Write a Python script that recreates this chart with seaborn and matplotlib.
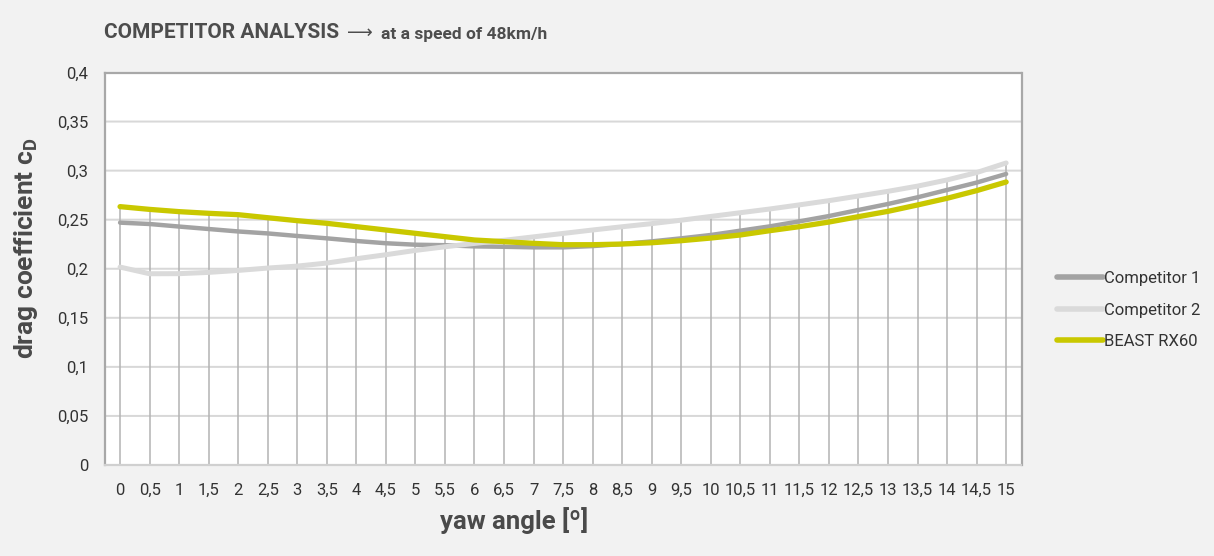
import numpy as np
import pandas as pd
import matplotlib
matplotlib.use("Agg")
import matplotlib.pyplot as plt
import seaborn as sns
from matplotlib.lines import Line2D

yaw = [0, 0.5, 1, 1.5, 2, 2.5, 3, 3.5, 4, 4.5, 5, 5.5, 6, 6.5, 7, 7.5,
       8, 8.5, 9, 9.5, 10, 10.5, 11, 11.5, 12, 12.5, 13, 13.5, 14, 14.5, 15]
competitor1 = [0.247, 0.2456, 0.243, 0.2405, 0.238, 0.236, 0.2334, 0.231, 0.2283, 0.226,
               0.2245, 0.224, 0.2228, 0.2224, 0.2218, 0.2218, 0.2231, 0.2252, 0.2279, 0.231,
               0.2344, 0.2388, 0.2432, 0.2483, 0.2537, 0.2599, 0.266, 0.2728, 0.2803, 0.2878, 0.2966]
competitor2 = [0.2017, 0.1949, 0.195, 0.1963, 0.1983, 0.2007, 0.2027, 0.2058, 0.2102, 0.2143,
               0.2187, 0.2224, 0.2258, 0.229, 0.2325, 0.236, 0.2395, 0.2428, 0.246, 0.2495,
               0.2533, 0.2571, 0.2609, 0.2651, 0.2694, 0.2741, 0.2789, 0.2842, 0.2905, 0.298, 0.3078]
beast = [0.2633, 0.2605, 0.2582, 0.2565, 0.2551, 0.252, 0.249, 0.2463, 0.2429, 0.2395,
         0.2361, 0.2327, 0.2293, 0.2276, 0.2259, 0.2245, 0.2245, 0.2252, 0.2265, 0.2286,
         0.2313, 0.2344, 0.2388, 0.2429, 0.2476, 0.2531, 0.2585, 0.265, 0.2718, 0.2796, 0.2884]
series_names = ["Competitor 1", "Competitor 2", "BEAST RX60"]
series_colors = ["#a3a3a3", "#dadada", "#c9c800"]
y_ticks = [0, 0.05, 0.1, 0.15, 0.2, 0.25, 0.3, 0.35, 0.4]


def fmt(v):
    return ("%g" % v).replace(".", ",")


df = pd.concat([
    pd.DataFrame({"yaw": yaw, "cd": vals, "series": name})
    for name, vals in zip(series_names, [competitor1, competitor2, beast])
])

sns.set_theme(style="white")
plt.rcParams["font.family"] = ["Roboto", "DejaVu Sans"]

fig = plt.figure(figsize=(12.14, 5.56), dpi=100, facecolor="#f2f2f2")
ax = fig.add_axes([105 / 1214, 1 - 465 / 556, (1021.5 - 105) / 1214, (465 - 72.5) / 556])
ax.set_facecolor("white")

# horizontal grid
for yt in y_ticks:
    gl = ax.axhline(yt, color="#d8d8d8", lw=1.44, zorder=0)
    gl.set_snap(False)

# drop lines up to the top-most series
tops = np.max(np.vstack([competitor1, competitor2, beast]), axis=0)
ax.vlines(yaw, 0, tops, color="#b3b3b3", lw=1.1, zorder=1)

sns.lineplot(data=df, x="yaw", y="cd", hue="series", hue_order=series_names,
             palette=series_colors, ax=ax, lw=4.0, legend=False, zorder=3,
             solid_capstyle="round")
for line, lw in zip(ax.get_lines()[len(y_ticks):], [3.2, 3.6, 3.8]):
    line.set_linewidth(lw)

ax.set_xlim(-0.255, 15.26)
ax.set_ylim(0, 0.4)
ax.set_xticks(yaw)
ax.set_xticklabels([fmt(v) for v in yaw])
ax.set_yticks(y_ticks)
ax.set_yticklabels([fmt(v) for v in y_ticks])
ax.tick_params(axis="both", length=0, labelsize=12, colors="#333333")
ax.tick_params(axis="y", pad=12)
ax.tick_params(axis="x", pad=13)

for side in ["left", "top", "right"]:
    ax.spines[side].set_color("#a8a8a8")
    ax.spines[side].set_linewidth(1.6)
ax.spines["bottom"].set_color("#d0d0d0")
ax.spines["bottom"].set_linewidth(1.6)

ax.set_xlabel("yaw angle [º]", fontsize=18.5, fontweight="bold", color="#4a4a4a")
ax.set_ylabel(r"drag coefficient c$_\mathregular{D}$", fontsize=19, fontweight="bold",
              color="#4a4a4a")
ax.xaxis.set_label_coords((514 - 105) / 916.5, (465 - 521) / 392.5)
ax.yaxis.set_label_coords((26 - 105) / 916.5, (465 - 248) / 392.5)
ax.xaxis.label.set_va("center")
ax.yaxis.label.set_va("center")

# title
fig.text(104 / 1214, 1 - 32 / 556, "COMPETITOR ANALYSIS", fontsize=15, fontweight="bold",
         color="#4d4d4d", va="center", ha="left")
fig.text(347 / 1214, 1 - 33 / 556, "\u27f6", fontsize=13, color="#4d4d4d",
         va="center", ha="left", family=["DejaVu Sans"])
fig.text(381 / 1214, 1 - 34 / 556, "at a speed of 48km/h", fontsize=12.5,
         fontweight="bold", color="#4d4d4d", va="center", ha="left")

# legend
handles = [Line2D([0], [0], color=c, lw=4, solid_capstyle="round") for c in series_colors]
leg = fig.legend(handles, series_names, loc="center left",
                 bbox_to_anchor=(1042 / 1214, 1 - 310 / 556), frameon=False,
                 fontsize=12, handlelength=2.75, handletextpad=0.1, labelspacing=1.0)
for t in leg.get_texts():
    t.set_color("#333333")

fig.savefig("out.png", dpi=100, facecolor=fig.get_facecolor())
